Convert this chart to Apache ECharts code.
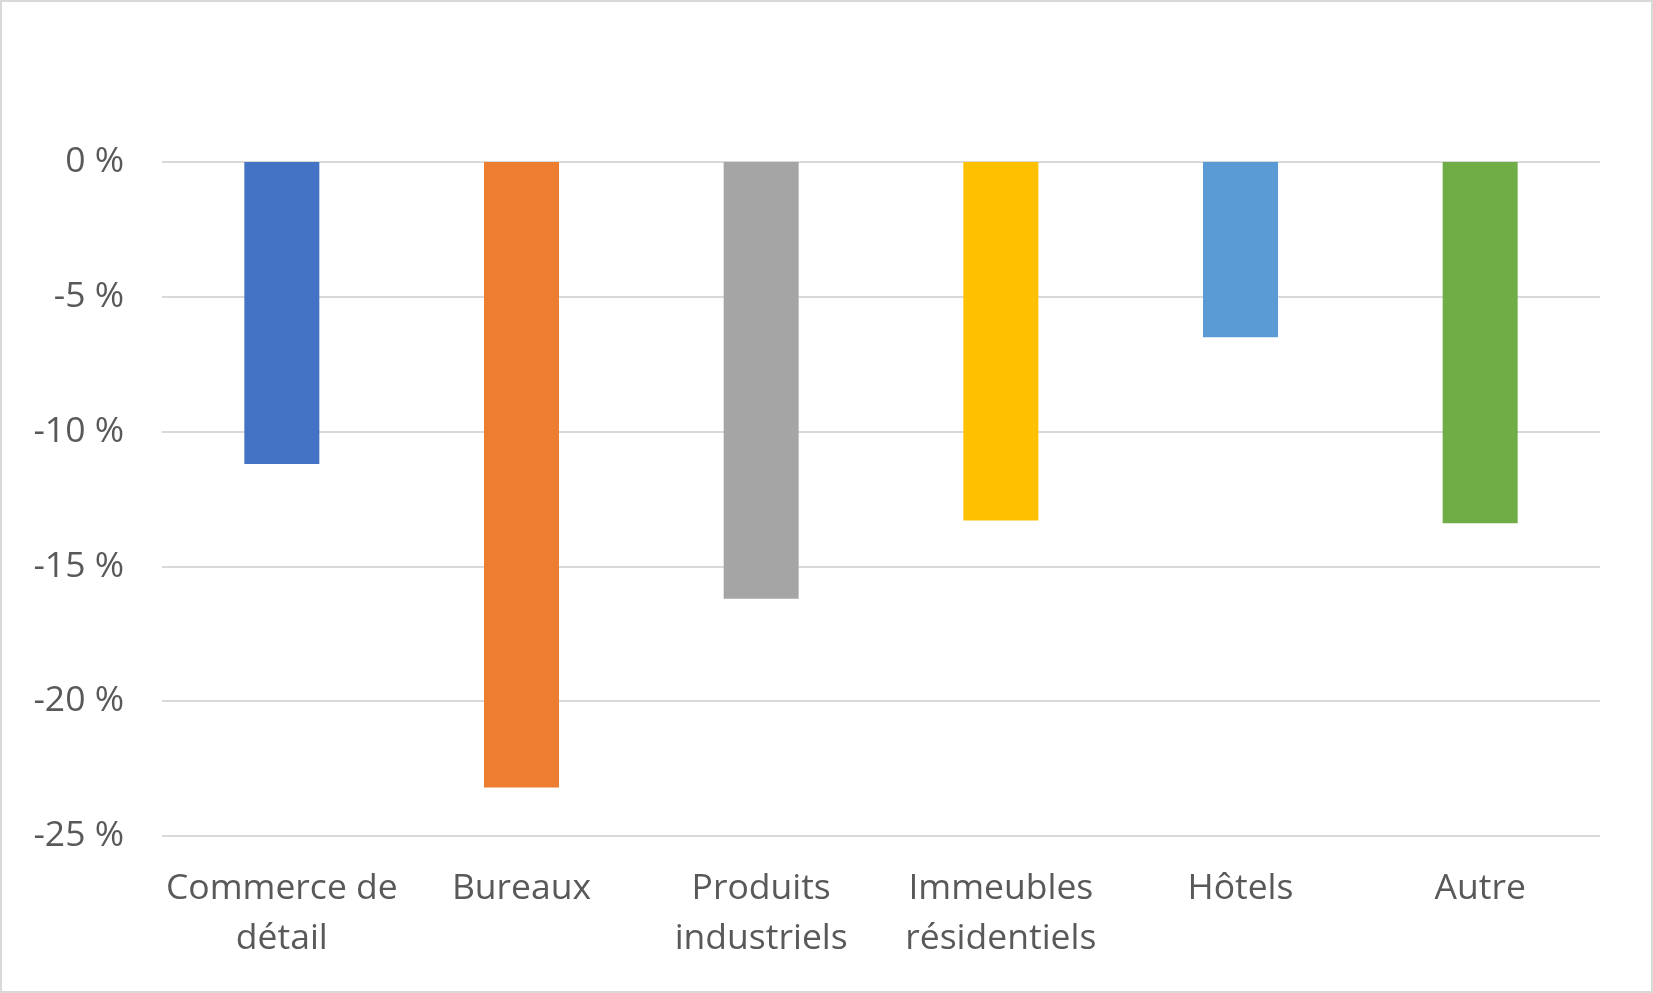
<!DOCTYPE html>
<html>
<head>
<meta charset="utf-8">
<script src="https://cdn.jsdelivr.net/npm/echarts@6/dist/echarts.min.js"></script>
<style>
  html, body { margin: 0; padding: 0; background: #fff; }
  #chart { width: 1653px; height: 993px; border: 2px solid #d9d9d9; box-sizing: border-box; }
</style>
</head>
<body>
<div id="chart"></div>
<script>
// categories + values
const categories = ['Commerce de\ndétail', 'Bureaux', 'Produits\nindustriels', 'Immeubles\nrésidentiels', 'Hôtels', 'Autre']
const values = [-11.2, -23.2, -16.2, -13.3, -6.5, -13.4]
const colors = ['#4472C4', '#ED7D31', '#A5A5A5', '#FFC000', '#5B9BD5', '#70AD47']
const yTicks = [0, -5, -10, -15, -20, -25]

const chart = echarts.init(document.getElementById('chart'))
const font = '"Open Sans", "Noto Sans", sans-serif'

const option = {
  animation: false,
  grid: { left: 160, right: 51, top: 160, bottom: 155 },
  xAxis: {
    type: 'category',
    data: categories,
    position: 'bottom',
    axisLine: { show: false, onZero: false },
    axisTick: { show: false },
    axisLabel: {
      color: '#595959',
      fontFamily: font,
      fontSize: 35.5,
      lineHeight: 50,
      margin: 28,
      interval: 0
    }
  },
  yAxis: {
    type: 'value',
    min: yTicks[yTicks.length - 1],
    max: yTicks[0],
    interval: 5,
    axisLine: { show: false },
    axisTick: { show: false },
    splitLine: { lineStyle: { color: '#d9d9d9', width: 2 } },
    axisLabel: {
      color: '#595959',
      fontFamily: font,
      fontSize: 35.5,
      margin: 38,
      formatter: v => v + ' %'
    }
  },
  series: [{
    type: 'bar',
    barWidth: 75,
    data: values.map((v, i) => ({ value: v, itemStyle: { color: colors[i] } }))
  }]
}
chart.setOption(option)
</script>
</body>
</html>
